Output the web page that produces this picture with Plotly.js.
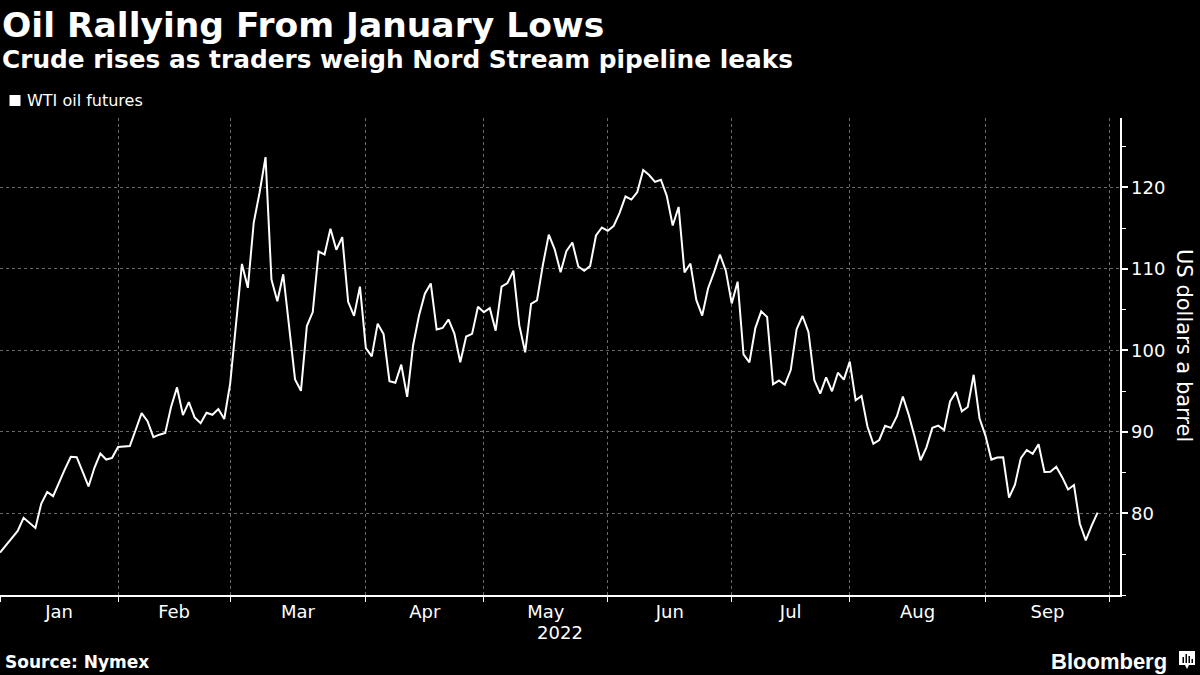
<!DOCTYPE html>
<html>
<head>
<meta charset="utf-8">
<script src="https://cdn.plot.ly/plotly-3.0.1.min.js"></script>
<style>
  html, body { margin: 0; padding: 0; background: #000; }
  #chart { width: 1200px; height: 675px; }
</style>
</head>
<body>
<div id="chart"></div>
<script>
// ---- Data (WTI oil futures, US$ a barrel, one value per trading day) ----
const startDate = '2021-12-31';
const calendarEnd = '2022-09-30';
const holidays = ['2022-01-17', '2022-02-21', '2022-04-15', '2022-05-30', '2022-06-20', '2022-07-04', '2022-09-05'];

const dec2021 = [75.21];
const jan2022 = [76.08, 76.99, 77.85, 79.46, 78.90, 78.23, 81.22, 82.64, 82.12, 83.82,
                 85.43, 86.96, 86.90, 85.14, 83.31, 85.60, 87.35, 86.61, 86.82, 88.15];
const feb2022 = [88.20, 88.26, 90.27, 92.31, 91.32, 89.36, 89.66, 89.88, 93.10, 95.46,
                 92.07, 93.66, 91.76, 91.07, 92.35, 92.10, 92.81, 91.59, 95.90];
const mar2022 = [103.41, 110.60, 107.67, 115.68, 119.40, 123.70, 108.70, 106.02, 109.33, 103.01,
                 96.44, 95.04, 102.98, 104.70, 112.12, 111.76, 114.93, 112.34, 113.90, 105.96,
                 104.24, 107.82, 100.28];
const apr2022 = [99.27, 103.28, 102.00, 96.23, 96.03, 98.26, 94.29, 100.60, 104.25, 106.95,
                 108.21, 102.56, 102.75, 103.79, 102.07, 98.54, 101.70, 102.02, 105.36, 104.69];
const may2022 = [105.17, 102.41, 107.81, 108.26, 109.77, 103.09, 99.76, 105.71, 106.13, 110.49,
                 114.20, 112.40, 109.59, 112.21, 113.23, 110.29, 109.77, 110.33, 114.09, 115.07,
                 114.67];
const jun2022 = [115.26, 116.87, 118.87, 118.50, 119.41, 122.11, 121.51, 120.67, 120.93, 118.93,
                 115.31, 117.59, 109.56, 110.65, 106.19, 104.27, 107.62, 109.57, 111.76, 109.78,
                 105.76];
const jul2022 = [108.43, 99.50, 98.53, 102.73, 104.79, 104.09, 95.84, 96.30, 95.78, 97.59,
                 102.60, 104.22, 102.26, 96.35, 94.70, 96.70, 94.98, 97.26, 96.42, 98.62];
const aug2022 = [93.89, 94.42, 90.66, 88.54, 89.01, 90.76, 90.50, 91.93, 94.34, 92.09,
                 89.41, 86.53, 88.11, 90.50, 90.77, 90.23, 93.74, 94.89, 92.52, 93.06,
                 97.01, 91.64, 89.55];
const sep2022 = [86.61, 86.87, 86.88, 81.94, 83.54, 86.79, 87.78, 87.31, 88.48, 85.10,
                 85.11, 85.73, 84.45, 82.94, 83.49, 78.74, 76.71, 78.50, 80.10];

const monthLabels = ['Jan', 'Feb', 'Mar', 'Apr', 'May', 'Jun', 'Jul', 'Aug', 'Sep'];
const yTickVals = [80, 90, 100, 110, 120];

// ---- Build the trading-day calendar (weekdays minus exchange holidays) ----
function tradingDays(start, end, skip) {
  const out = [];
  const d = new Date(start + 'T00:00:00Z');
  const e = new Date(end + 'T00:00:00Z');
  while (d <= e) {
    const iso = d.toISOString().slice(0, 10);
    const wd = d.getUTCDay();
    if (wd !== 0 && wd !== 6 && skip.indexOf(iso) < 0) out.push(iso);
    d.setUTCDate(d.getUTCDate() + 1);
  }
  return out;
}
const calendar = tradingDays(startDate, calendarEnd, holidays);
const values = [].concat(dec2021, jan2022, feb2022, mar2022, apr2022, may2022, jun2022, jul2022, aug2022, sep2022);
const dates = calendar.slice(0, values.length);
const xIndex = dates.map((d, i) => i);

// month boundaries = last trading day of each month (on the trading-day scale)
const boundaries = [];
for (let i = 0; i < calendar.length; i++) {
  const next = calendar[i + 1];
  if (!next || next.slice(0, 7) !== calendar[i].slice(0, 7)) boundaries.push(i);
}
const labelPos = [];
for (let i = 0; i < boundaries.length - 1; i++) labelPos.push((boundaries[i] + boundaries[i + 1]) / 2);

// ---- Plot ----
const FONT = 'DejaVu Sans, Verdana, sans-serif';
const LOGO_FONT = 'Liberation Sans, Arial, sans-serif';
const plotTop = 118, plotBottom = 595, H = plotBottom - plotTop;
const py = y => (plotBottom - y) / H;        // pixel row -> paper y
const px = x => x / 1120;                    // pixel column -> paper x

const trace = {
  type: 'scatter',
  mode: 'lines',
  x: xIndex,
  y: values,
  customdata: dates,
  hovertemplate: '%{customdata}: %{y:.2f}<extra></extra>',
  line: { color: '#ffffff', width: 2 },
  name: 'WTI oil futures',
  showlegend: false
};

const layout = {
  width: 1200,
  height: 675,
  paper_bgcolor: '#000000',
  plot_bgcolor: '#000000',
  margin: { l: 0, r: 80, t: plotTop, b: 675 - plotBottom, pad: 0 },
  font: { family: FONT, color: '#ffffff' },
  showlegend: false,
  xaxis: {
    type: 'linear',
    range: [0, 189.8],
    showline: true,
    linecolor: '#ffffff',
    linewidth: 1.5,
    zeroline: false,
    showgrid: false,
    tickmode: 'array',
    tickvals: labelPos,
    ticktext: monthLabels,
    ticks: '',
    tickfont: { family: FONT, size: 18, color: '#ffffff' },
    minor: {
      tickmode: 'array',
      tickvals: boundaries,
      ticks: 'outside',
      ticklen: 5,
      tickwidth: 1,
      tickcolor: '#ffffff',
      showgrid: true,
      gridcolor: '#6a6a6a',
      gridwidth: 1,
      griddash: '3px,3px'
    },
    title: { text: '2022', font: { family: FONT, size: 18, color: '#ffffff' }, standoff: 2 },
    fixedrange: true
  },
  yaxis: {
    side: 'right',
    range: [70, 128.5],
    showline: true,
    linecolor: '#ffffff',
    linewidth: 1.5,
    zeroline: false,
    tickmode: 'array',
    tickvals: yTickVals,
    ticks: 'outside',
    ticklen: 6,
    tickwidth: 2,
    tickcolor: '#ffffff',
    tickfont: { family: FONT, size: 18, color: '#ffffff' },
    showgrid: true,
    gridcolor: '#6a6a6a',
    gridwidth: 1,
    griddash: '3px,3px',
    minor: { dtick: 5, ticks: 'outside', ticklen: 4, tickwidth: 1, tickcolor: '#ffffff', showgrid: false },
    fixedrange: true
  },
  annotations: [
    { text: '<b>Oil Rallying From January Lows</b>', xref: 'paper', yref: 'paper',
      x: 0, y: py(25), xanchor: 'left', yanchor: 'middle', xshift: 0, showarrow: false,
      font: { family: FONT, size: 34.5, color: '#ffffff' } },
    { text: '<b>Crude rises as traders weigh Nord Stream pipeline leaks</b>', xref: 'paper', yref: 'paper',
      x: 0, y: py(59.5), xanchor: 'left', yanchor: 'middle', xshift: 0, showarrow: false,
      font: { family: FONT, size: 24.8, color: '#ffffff' } },
    { text: 'WTI oil futures', xref: 'paper', yref: 'paper',
      x: px(25), y: py(100.5), xanchor: 'left', yanchor: 'middle', showarrow: false,
      font: { family: FONT, size: 16, color: '#ffffff' } },
    { text: 'US dollars a barrel', xref: 'paper', yref: 'paper',
      x: px(1184), y: py(345), xanchor: 'center', yanchor: 'middle', textangle: 90, showarrow: false,
      font: { family: FONT, size: 21, color: '#ffffff' } },
    { text: '<b>Source: Nymex</b>', xref: 'paper', yref: 'paper',
      x: 0, y: py(662), xanchor: 'left', yanchor: 'middle', xshift: 3, showarrow: false,
      font: { family: FONT, size: 17, color: '#ffffff' } },
    { text: '<b>Bloomberg</b>', xref: 'paper', yref: 'paper',
      x: px(1169), y: py(661), xanchor: 'right', yanchor: 'middle', showarrow: false,
      font: { family: LOGO_FONT, size: 22, color: '#ffffff' } }
  ],
  shapes: [
    // legend swatch
    { type: 'rect', xref: 'paper', yref: 'paper', x0: px(9.5), x1: px(20.5), y0: py(106), y1: py(95),
      fillcolor: '#ffffff', line: { width: 0 } },
    // Bloomberg mark
    { type: 'path', xref: 'paper', yref: 'paper',
      path: 'M ' + px(1179) + ',' + py(651) + ' L ' + px(1195) + ',' + py(651) + ' L ' + px(1195) + ',' + py(665) +
            ' L ' + px(1189) + ',' + py(665) + ' L ' + px(1187) + ',' + py(669) + ' L ' + px(1185) + ',' + py(665) +
            ' L ' + px(1179) + ',' + py(665) + ' Z',
      fillcolor: '#ffffff', line: { width: 0 } },
    { type: 'rect', xref: 'paper', yref: 'paper', x0: px(1182.5), x1: px(1184), y0: py(663), y1: py(657),
      fillcolor: '#000000', line: { width: 0 } },
    { type: 'rect', xref: 'paper', yref: 'paper', x0: px(1185.5), x1: px(1187), y0: py(663), y1: py(654),
      fillcolor: '#000000', line: { width: 0 } },
    { type: 'rect', xref: 'paper', yref: 'paper', x0: px(1188.5), x1: px(1190), y0: py(663), y1: py(656),
      fillcolor: '#000000', line: { width: 0 } },
    { type: 'rect', xref: 'paper', yref: 'paper', x0: px(1191.5), x1: px(1193), y0: py(663), y1: py(659),
      fillcolor: '#000000', line: { width: 0 } }
  ]
};

Plotly.newPlot('chart', [trace], layout, { displayModeBar: false, staticPlot: true });
</script>
</body>
</html>
